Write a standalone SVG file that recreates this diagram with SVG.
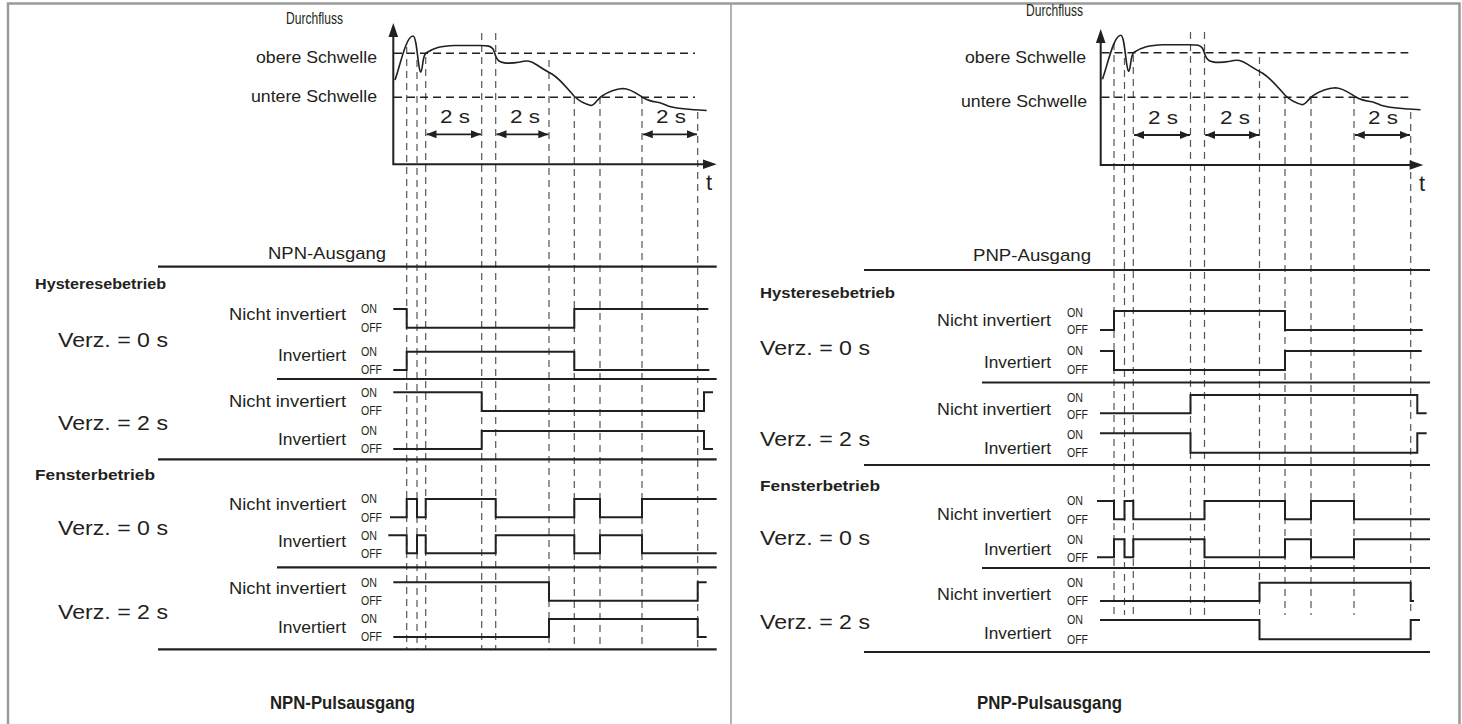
<svg xmlns="http://www.w3.org/2000/svg" width="1462" height="724" viewBox="0 0 1462 724">
<style>
.t{font-family:"Liberation Sans",Arial,sans-serif;fill:#231f20}
.lb{font-size:17px}
.sm{font-size:12px}
.vz{font-size:21px}
.hd{font-size:15px;font-weight:bold}
.ttl{font-size:18.5px;font-weight:bold}
.tw{font-size:19px}
.sig{fill:none;stroke:#231f20;stroke-width:2}
.sep{stroke:#231f20;stroke-width:2.2}
.dv{stroke:#555;stroke-width:1.2;stroke-dasharray:7 5;fill:none}
.th{stroke:#231f20;stroke-width:1.4;stroke-dasharray:8 5}
.ax{stroke:#231f20;stroke-width:2;fill:none}
.crv{stroke:#231f20;stroke-width:1.6;fill:none}
.dim{stroke:#231f20;stroke-width:1.8;marker-start:url(#ah);marker-end:url(#ah)}
.frm{stroke:#9a9a9a;stroke-width:2.5;fill:none}
</style>
<defs>
<marker id="ah" viewBox="0 0 10 8" refX="10" refY="4" markerWidth="10" markerHeight="8" markerUnits="userSpaceOnUse" orient="auto-start-reverse">
<path d="M0,0 L10,4 L0,8 Z" fill="#231f20"/>
</marker>
<path id="curve" d="M395,80 C400,66 406,36 413,36 C417,36 418,70 420.5,72 C423,72 422,56 426,53 C434,48 440,46 455,45.5 L480,45.5 C488,45.5 491,46 493,49 C495,52 495,58 499,61 C504,64 512,63.5 520,62 C528,60 531,61 537,65 C543,69 546,71 552,74 C560,79 566,87 574,96 C579,101 585,104 591,105.5 C595,105 597,99 602,96 C608,92 615,89 623,88.5 C630,88.5 636,93 642,97 C647,100 651,101.5 656,102 C661,102.5 663,104 668,106 C675,108.5 685,109 695,109.8 L706.7,110.5"/>
</defs>
<rect width="1462" height="724" fill="#fff"/>
<g id="frame">
<path class="frm" d="M8,726 V3.5 H1459.5 V726"/>
<line x1="731" y1="3.5" x2="731" y2="726" stroke="#9a9a9a" stroke-width="1.5"/>
</g>

<!-- LEFT PANEL -->
<g id="npn-graph">
<g id="npn-dashed">
<line class="dv" x1="406.7" y1="47" x2="406.7" y2="649"/>
<line class="dv" x1="417" y1="60" x2="417" y2="649"/>
<line class="dv" x1="425.7" y1="57" x2="425.7" y2="649"/>
<line class="dv" x1="481.7" y1="33" x2="481.7" y2="649"/>
<line class="dv" x1="495.7" y1="33" x2="495.7" y2="649"/>
<line class="dv" x1="549" y1="60" x2="549" y2="649"/>
<line class="dv" x1="574.3" y1="97" x2="574.3" y2="649"/>
<line class="dv" x1="600" y1="97" x2="600" y2="649"/>
<line class="dv" x1="642" y1="97" x2="642" y2="649"/>
<line class="dv" x1="697.7" y1="112" x2="697.7" y2="649"/>
</g>
<line class="th" x1="394" y1="53.3" x2="695" y2="53.3"/>
<line class="th" x1="394" y1="97.3" x2="695" y2="97.3"/>
<path class="ax" d="M393.3,34 V164.3 H705"/>
<path d="M393.3,23 L388.5,37 L398.1,37 Z" fill="#231f20"/>
<path d="M716.7,164.3 L703,159.5 L703,169.1 Z" fill="#231f20"/>
<use href="#curve" class="crv"/>
<line class="dim" x1="426.5" y1="134.3" x2="481" y2="134.3"/>
<line class="dim" x1="496.5" y1="134.3" x2="548.3" y2="134.3"/>
<line class="dim" x1="642.8" y1="134.3" x2="697" y2="134.3"/>
<text class="t tw" x="440" y="123" textLength="30" lengthAdjust="spacingAndGlyphs">2 s</text>
<text class="t tw" x="510" y="123" textLength="30" lengthAdjust="spacingAndGlyphs">2 s</text>
<text class="t tw" x="656" y="123" textLength="30" lengthAdjust="spacingAndGlyphs">2 s</text>
<text class="t" x="706" y="190" font-size="22">t</text>
<text class="t" x="343" y="24" font-size="16" text-anchor="end" textLength="57" lengthAdjust="spacingAndGlyphs">Durchfluss</text>
<text class="t lb" x="377" y="63" text-anchor="end" textLength="121" lengthAdjust="spacingAndGlyphs">obere Schwelle</text>
<text class="t lb" x="377" y="102" text-anchor="end" textLength="126" lengthAdjust="spacingAndGlyphs">untere Schwelle</text>
</g>

<g id="npn-labels">
<text class="t lb" x="386" y="259" text-anchor="end" textLength="118" lengthAdjust="spacingAndGlyphs">NPN-Ausgang</text>
<text class="t hd" x="35" y="288.5" textLength="131" lengthAdjust="spacingAndGlyphs">Hysteresebetrieb</text>
<text class="t hd" x="35" y="479.5" textLength="120" lengthAdjust="spacingAndGlyphs">Fensterbetrieb</text>
<text class="t vz" x="58" y="346.5" textLength="110" lengthAdjust="spacingAndGlyphs">Verz. = 0 s</text>
<text class="t vz" x="58" y="430" textLength="110" lengthAdjust="spacingAndGlyphs">Verz. = 2 s</text>
<text class="t vz" x="58" y="535" textLength="110" lengthAdjust="spacingAndGlyphs">Verz. = 0 s</text>
<text class="t vz" x="58" y="619" textLength="110" lengthAdjust="spacingAndGlyphs">Verz. = 2 s</text>
<text class="t lb" x="346" y="320" text-anchor="end" textLength="117" lengthAdjust="spacingAndGlyphs">Nicht invertiert</text>
<text class="t lb" x="346" y="361" text-anchor="end" textLength="68" lengthAdjust="spacingAndGlyphs">Invertiert</text>
<text class="t lb" x="346" y="406.5" text-anchor="end" textLength="117" lengthAdjust="spacingAndGlyphs">Nicht invertiert</text>
<text class="t lb" x="346" y="444.5" text-anchor="end" textLength="68" lengthAdjust="spacingAndGlyphs">Invertiert</text>
<text class="t lb" x="346" y="510" text-anchor="end" textLength="117" lengthAdjust="spacingAndGlyphs">Nicht invertiert</text>
<text class="t lb" x="346" y="547" text-anchor="end" textLength="68" lengthAdjust="spacingAndGlyphs">Invertiert</text>
<text class="t lb" x="346" y="594" text-anchor="end" textLength="117" lengthAdjust="spacingAndGlyphs">Nicht invertiert</text>
<text class="t lb" x="346" y="633" text-anchor="end" textLength="68" lengthAdjust="spacingAndGlyphs">Invertiert</text>
<g class="t sm">
<text x="361" y="313.3" textLength="16" lengthAdjust="spacingAndGlyphs">ON</text>
<text x="361" y="332" textLength="21" lengthAdjust="spacingAndGlyphs">OFF</text>
<text x="361" y="356" textLength="16" lengthAdjust="spacingAndGlyphs">ON</text>
<text x="361" y="374.3" textLength="21" lengthAdjust="spacingAndGlyphs">OFF</text>
<text x="361" y="396.6" textLength="16" lengthAdjust="spacingAndGlyphs">ON</text>
<text x="361" y="415.3" textLength="21" lengthAdjust="spacingAndGlyphs">OFF</text>
<text x="361" y="435.3" textLength="16" lengthAdjust="spacingAndGlyphs">ON</text>
<text x="361" y="453.3" textLength="21" lengthAdjust="spacingAndGlyphs">OFF</text>
<text x="361" y="503.3" textLength="16" lengthAdjust="spacingAndGlyphs">ON</text>
<text x="361" y="521.6" textLength="21" lengthAdjust="spacingAndGlyphs">OFF</text>
<text x="361" y="539.6" textLength="16" lengthAdjust="spacingAndGlyphs">ON</text>
<text x="361" y="557.6" textLength="21" lengthAdjust="spacingAndGlyphs">OFF</text>
<text x="361" y="586.6" textLength="16" lengthAdjust="spacingAndGlyphs">ON</text>
<text x="361" y="605" textLength="21" lengthAdjust="spacingAndGlyphs">OFF</text>
<text x="361" y="623.3" textLength="16" lengthAdjust="spacingAndGlyphs">ON</text>
<text x="361" y="641.3" textLength="21" lengthAdjust="spacingAndGlyphs">OFF</text>
</g>
<text class="t ttl" x="270" y="708.5" textLength="145" lengthAdjust="spacingAndGlyphs">NPN-Pulsausgang</text>
</g>

<g id="npn-rules">
<line class="sep" x1="158" y1="266.7" x2="716.7" y2="266.7"/>
<line class="sep" x1="277" y1="379" x2="716.7" y2="379"/>
<line class="sep" x1="158" y1="459.3" x2="716.7" y2="459.3"/>
<line class="sep" x1="277" y1="567.3" x2="716.7" y2="567.3"/>
<line class="sep" x1="158" y1="649.3" x2="716.7" y2="649.3"/>
</g>

<g id="npn-signals">
<path class="sig" d="M393.3,309 H406.7 V327.7 H574.3 V309 H708.3"/>
<path class="sig" d="M393.3,370 H406.7 V351.7 H574.3 V370 H709.3"/>
<path class="sig" d="M393.3,392.3 H481.7 V411 H704 V392.3 H713"/>
<path class="sig" d="M393.3,449 H481.7 V431 H704 V449 H713"/>
<path class="sig" d="M390,517.3 H406.7 V499 H417 V517.3 H425.7 V499 H495.7 V517.3 H574.3 V499 H600 V517.3 H642 V499 H716.7"/>
<path class="sig" d="M388.3,535.3 H406.7 V553.3 H417 V535.3 H425.7 V553.3 H495.7 V535.3 H574.3 V553.3 H600 V535.3 H642 V553.3 H716.7"/>
<path class="sig" d="M393.3,582.3 H549 V600.7 H697.7 V582.3 H706.7"/>
<path class="sig" d="M393.3,637 H549 V619 H697.7 V637 H706.7"/>
</g>

<!-- RIGHT PANEL -->
<g id="pnp-graph">
<g id="pnp-dashed">
<line class="dv" x1="1114" y1="43" x2="1114" y2="615"/>
<line class="dv" x1="1124.5" y1="58" x2="1124.5" y2="615"/>
<line class="dv" x1="1133.3" y1="55" x2="1133.3" y2="615"/>
<line class="dv" x1="1190.5" y1="32" x2="1190.5" y2="615"/>
<line class="dv" x1="1204.5" y1="32" x2="1204.5" y2="615"/>
<line class="dv" x1="1259.5" y1="57" x2="1259.5" y2="615"/>
<line class="dv" x1="1285" y1="97" x2="1285" y2="615"/>
<line class="dv" x1="1311" y1="97" x2="1311" y2="615"/>
<line class="dv" x1="1354" y1="97" x2="1354" y2="615"/>
<line class="dv" x1="1410.7" y1="112" x2="1410.7" y2="615"/>
</g>
<line class="th" x1="1101.5" y1="52.7" x2="1408.3" y2="52.7"/>
<line class="th" x1="1101.5" y1="97.3" x2="1408.3" y2="97.3"/>
<path class="ax" d="M1100.7,40 V165 H1412"/>
<path d="M1100.7,29 L1095.9,43 L1105.5,43 Z" fill="#231f20"/>
<path d="M1423.3,165 L1409.6,160.2 L1409.6,169.8 Z" fill="#231f20"/>
<use href="#curve" class="crv" transform="translate(1100.7,-0.8) scale(1.0205,1) translate(-393.3,0)"/>
<line class="dim" x1="1134.1" y1="135" x2="1190" y2="135"/>
<line class="dim" x1="1205.3" y1="135" x2="1259" y2="135"/>
<line class="dim" x1="1354.8" y1="135" x2="1410" y2="135"/>
<text class="t tw" x="1148" y="123.5" textLength="30" lengthAdjust="spacingAndGlyphs">2 s</text>
<text class="t tw" x="1220" y="123.5" textLength="30" lengthAdjust="spacingAndGlyphs">2 s</text>
<text class="t tw" x="1368" y="123.5" textLength="30" lengthAdjust="spacingAndGlyphs">2 s</text>
<text class="t" x="1419" y="190.5" font-size="22">t</text>
<text class="t" x="1083" y="16" font-size="16" text-anchor="end" textLength="57" lengthAdjust="spacingAndGlyphs">Durchfluss</text>
<text class="t lb" x="1086" y="63" text-anchor="end" textLength="121" lengthAdjust="spacingAndGlyphs">obere Schwelle</text>
<text class="t lb" x="1087" y="107" text-anchor="end" textLength="126" lengthAdjust="spacingAndGlyphs">untere Schwelle</text>
</g>

<g id="pnp-labels">
<text class="t lb" x="1091" y="261" text-anchor="end" textLength="118" lengthAdjust="spacingAndGlyphs">PNP-Ausgang</text>
<text class="t hd" x="760" y="297.5" textLength="135" lengthAdjust="spacingAndGlyphs">Hysteresebetrieb</text>
<text class="t hd" x="760" y="491" textLength="120" lengthAdjust="spacingAndGlyphs">Fensterbetrieb</text>
<text class="t vz" x="760" y="354.5" textLength="110" lengthAdjust="spacingAndGlyphs">Verz. = 0 s</text>
<text class="t vz" x="760" y="446" textLength="110" lengthAdjust="spacingAndGlyphs">Verz. = 2 s</text>
<text class="t vz" x="760" y="545" textLength="110" lengthAdjust="spacingAndGlyphs">Verz. = 0 s</text>
<text class="t vz" x="760" y="629" textLength="110" lengthAdjust="spacingAndGlyphs">Verz. = 2 s</text>
<text class="t lb" x="1051" y="326" text-anchor="end" textLength="114" lengthAdjust="spacingAndGlyphs">Nicht invertiert</text>
<text class="t lb" x="1051" y="368" text-anchor="end" textLength="67" lengthAdjust="spacingAndGlyphs">Invertiert</text>
<text class="t lb" x="1051" y="415" text-anchor="end" textLength="114" lengthAdjust="spacingAndGlyphs">Nicht invertiert</text>
<text class="t lb" x="1051" y="454" text-anchor="end" textLength="67" lengthAdjust="spacingAndGlyphs">Invertiert</text>
<text class="t lb" x="1051" y="520" text-anchor="end" textLength="114" lengthAdjust="spacingAndGlyphs">Nicht invertiert</text>
<text class="t lb" x="1051" y="555" text-anchor="end" textLength="67" lengthAdjust="spacingAndGlyphs">Invertiert</text>
<text class="t lb" x="1051" y="600" text-anchor="end" textLength="114" lengthAdjust="spacingAndGlyphs">Nicht invertiert</text>
<text class="t lb" x="1051" y="639" text-anchor="end" textLength="67" lengthAdjust="spacingAndGlyphs">Invertiert</text>
<g class="t sm">
<text x="1067" y="317" textLength="16" lengthAdjust="spacingAndGlyphs">ON</text>
<text x="1067" y="334" textLength="21" lengthAdjust="spacingAndGlyphs">OFF</text>
<text x="1067" y="355.3" textLength="16" lengthAdjust="spacingAndGlyphs">ON</text>
<text x="1067" y="374" textLength="21" lengthAdjust="spacingAndGlyphs">OFF</text>
<text x="1067" y="402" textLength="16" lengthAdjust="spacingAndGlyphs">ON</text>
<text x="1067" y="419" textLength="21" lengthAdjust="spacingAndGlyphs">OFF</text>
<text x="1067" y="438.5" textLength="16" lengthAdjust="spacingAndGlyphs">ON</text>
<text x="1067" y="456.5" textLength="21" lengthAdjust="spacingAndGlyphs">OFF</text>
<text x="1067" y="505.3" textLength="16" lengthAdjust="spacingAndGlyphs">ON</text>
<text x="1067" y="523.6" textLength="21" lengthAdjust="spacingAndGlyphs">OFF</text>
<text x="1067" y="543.6" textLength="16" lengthAdjust="spacingAndGlyphs">ON</text>
<text x="1067" y="561.6" textLength="21" lengthAdjust="spacingAndGlyphs">OFF</text>
<text x="1067" y="587" textLength="16" lengthAdjust="spacingAndGlyphs">ON</text>
<text x="1067" y="605.3" textLength="21" lengthAdjust="spacingAndGlyphs">OFF</text>
<text x="1067" y="624.3" textLength="16" lengthAdjust="spacingAndGlyphs">ON</text>
<text x="1067" y="643.6" textLength="21" lengthAdjust="spacingAndGlyphs">OFF</text>
</g>
<text class="t ttl" x="977" y="709" textLength="145" lengthAdjust="spacingAndGlyphs">PNP-Pulsausgang</text>
</g>

<g id="pnp-rules">
<line class="sep" x1="864" y1="270" x2="1430" y2="270"/>
<line class="sep" x1="982" y1="382.5" x2="1430" y2="382.5"/>
<line class="sep" x1="864" y1="465" x2="1430" y2="465"/>
<line class="sep" x1="982" y1="568" x2="1430" y2="568"/>
<line class="sep" x1="864" y1="652" x2="1430" y2="652"/>
</g>

<g id="pnp-signals">
<path class="sig" d="M1100,330 H1114 V311 H1285 V330 H1422.7"/>
<path class="sig" d="M1100,351 H1114 V370 H1285 V351 H1421.7"/>
<path class="sig" d="M1100,413.3 H1190.5 V395 H1417.3 V413.3 H1426.7"/>
<path class="sig" d="M1100,433.3 H1190.5 V452.7 H1417.3 V433.3 H1426.7"/>
<path class="sig" d="M1097,501 H1114 V519.3 H1124.5 V501 H1133.3 V519.3 H1204.5 V501 H1285 V519.3 H1311 V501 H1354 V519.3 H1430"/>
<path class="sig" d="M1097,557.3 H1114 V539.3 H1124.5 V557.3 H1133.3 V539.3 H1204.5 V557.3 H1285 V539.3 H1311 V557.3 H1354 V539.3 H1430"/>
<path class="sig" d="M1100,601 H1259.5 V582.7 H1410.7 V601 H1414"/>
<path class="sig" d="M1100,620 H1259.5 V639.3 H1410.7 V620 H1420"/>
</g>
</svg>
